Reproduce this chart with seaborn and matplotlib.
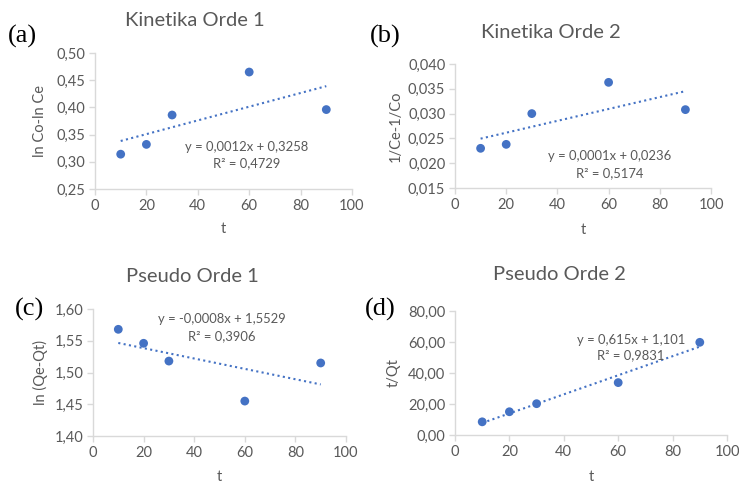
import numpy as np
import pandas as pd
import seaborn as sns
import matplotlib
matplotlib.use("Agg")
import matplotlib.pyplot as plt
from matplotlib.ticker import FuncFormatter

# ---- data ----
t_values = [10, 20, 30, 60, 90]
kinetika1 = [0.314, 0.332, 0.386, 0.465, 0.396]
kinetika2 = [0.0230, 0.0238, 0.0300, 0.0363, 0.0308]
pseudo1 = [1.568, 1.546, 1.518, 1.455, 1.515]
pseudo2 = [8.5, 15.0, 20.2, 33.8, 59.8]

titles = ["Kinetika Orde 1", "Kinetika Orde 2", "Pseudo Orde 1", "Pseudo Orde 2"]
letters = ["(a)", "(b)", "(c)", "(d)"]
ylabels = ["ln Co-ln Ce", "1/Ce-1/Co", "ln (Qe-Qt)", "t/Qt"]
equations = ["y = 0,0012x + 0,3258", "y = 0,0001x + 0,0236",
             "y = -0,0008x + 1,5529", "y = 0,615x + 1,101"]
r2_texts = ["R² = 0,4729", "R² = 0,5174", "R² = 0,3906", "R² = 0,9831"]
x_ticks = [0, 20, 40, 60, 80, 100]
y_ticks = [[0.25, 0.30, 0.35, 0.40, 0.45, 0.50],
           [0.015, 0.020, 0.025, 0.030, 0.035, 0.040],
           [1.40, 1.45, 1.50, 1.55, 1.60],
           [0, 20, 40, 60, 80]]
y_decimals = [2, 3, 2, 2]
series = [kinetika1, kinetika2, pseudo1, pseudo2]

sns.set_theme(style="white")
plt.rcParams["font.family"] = ["Lato", "DejaVu Sans"]

BLUE = "#4472c4"
GRAY_TXT = "#595959"
GRAY_LINE = "#d9d9d9"

fig = plt.figure(figsize=(7.39, 4.83), dpi=100)
W, H = 739, 483

# axes pixel boxes: (x0, x1, ytop, ybottom)
boxes = [(95, 352, 53, 189), (455, 711, 64, 188), (93, 346, 309, 436), (455, 727, 311, 435)]
title_pos = [(195, 20), (551, 33), (192, 276), (559, 275)]
letter_pos = [(8, 36), (370, 36), (15, 309), (365, 309)]
ylab_x = [40, 396, 40, 394]
xlab_y = [229, 230, 477, 477]
eq_pos = [(0.59, 0.31, 0.19), (0.605, 0.26, 0.12), (0.51, 0.92, 0.79), (0.647, 0.77, 0.645)]

for i in range(4):
    x0, x1, yt, yb = boxes[i]
    ax = fig.add_axes([x0 / W, 1 - yb / H, (x1 - x0) / W, (yb - yt) / H])
    df = pd.DataFrame({"t": t_values, "v": series[i]})
    sns.regplot(data=df, x="t", y="v", ax=ax, ci=None, scatter=False, truncate=True,
                line_kws=dict(color=BLUE, ls=(0, (1, 1.6)), lw=1.5))
    sns.scatterplot(data=df, x="t", y="v", ax=ax, color=BLUE, s=40, edgecolor="none", zorder=3)
    ax.set_xlim(0, 100)
    ax.set_xticks(x_ticks)
    yt_list = y_ticks[i]
    ax.set_ylim(yt_list[0], yt_list[-1])
    ax.set_yticks(yt_list)
    d = y_decimals[i]
    ax.yaxis.set_major_formatter(FuncFormatter(lambda v, p, d=d: f"{v:.{d}f}".replace(".", ",")))
    for s in ["top", "right"]:
        ax.spines[s].set_visible(False)
    for s in ["left", "bottom"]:
        ax.spines[s].set_color(GRAY_LINE)
        ax.spines[s].set_linewidth(1.0)
    ax.tick_params(axis="both", which="major", length=4, width=1, color=GRAY_LINE,
                   labelcolor=GRAY_TXT, labelsize=10.5, direction="out", pad=3,
                   left=True, bottom=True)
    ax.grid(False)
    ax.set_xlabel("t", fontsize=10.5, color=GRAY_TXT)
    ax.set_ylabel(ylabels[i], fontsize=10.5, color=GRAY_TXT)
    ax.xaxis.label.set_va("center")
    ax.yaxis.label.set_va("center")
    ax.xaxis.set_label_coords(0.5, (yb - xlab_y[i]) / (yb - yt))
    ax.yaxis.set_label_coords((ylab_x[i] - x0) / (x1 - x0), 0.5)
    ex, ey1, ey2 = eq_pos[i]
    ax.text(ex, ey1, equations[i], transform=ax.transAxes, ha="center", va="center",
            fontsize=9.4, color=GRAY_TXT)
    ax.text(ex, ey2, r2_texts[i], transform=ax.transAxes, ha="center", va="center",
            fontsize=9.4, color=GRAY_TXT)
    tx, ty = title_pos[i]
    fig.text(tx / W, 1 - ty / H, titles[i], ha="center", va="center", fontsize=14.5,
             color=GRAY_TXT)
    lx, ly = letter_pos[i]
    fig.text(lx / W, 1 - ly / H, letters[i], ha="left", va="center", fontsize=19,
             color="black", family=["Liberation Serif", "DejaVu Serif"])

fig.savefig("out.png", dpi=100)
